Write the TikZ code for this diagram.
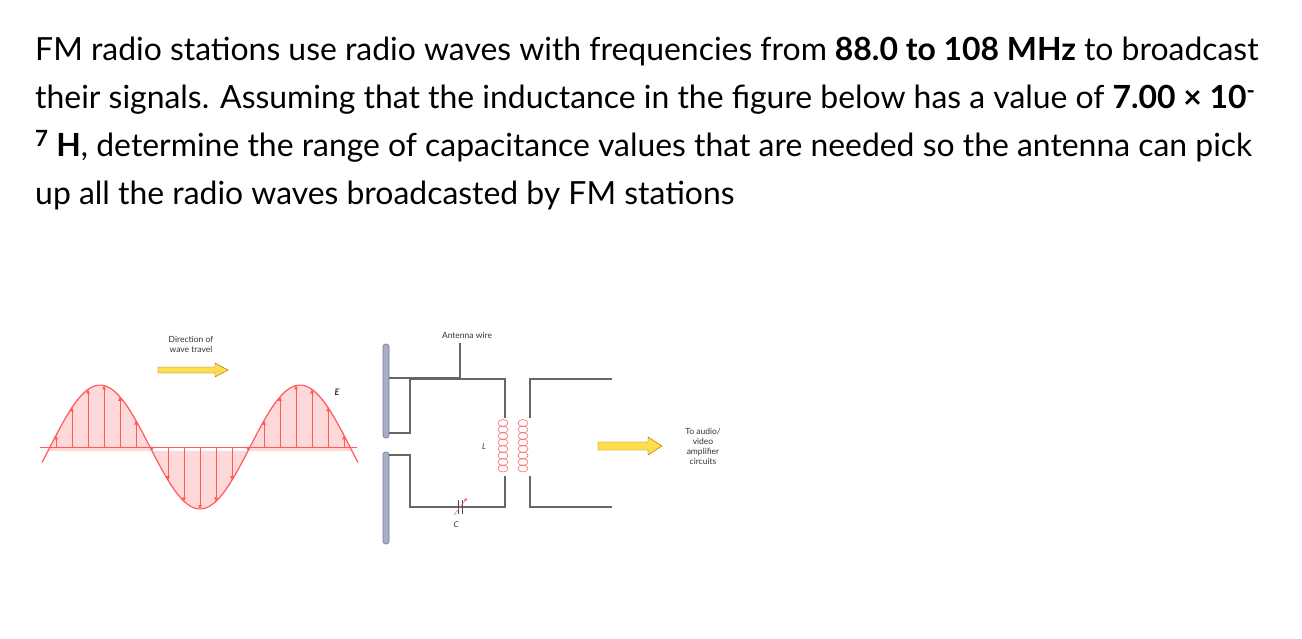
\documentclass[tikz,border=0pt]{standalone}
\usepackage{fontspec}
\setmainfont{Lato}
\usetikzlibrary{arrows.meta}
\begin{document}
\begin{tikzpicture}[x=1pt,y=-1pt,
  txt/.style={anchor=base west,inner sep=0,font=\fontsize{31.9}{36}\selectfont},
  lbl/.style={inner sep=0,font=\fontsize{8.5}{10}\selectfont,align=center,text=black!80},
  wire/.style={draw=black!60,line width=1.1},
  fat/.style={draw=orange!70!black,fill=yellow!70!orange!70,line width=0.4},
  rod/.style={draw=cyan!40!blue!50!gray,fill=cyan!40!blue!30!gray!60,line width=0.6,rounded corners=2.5},
  field/.style={draw=red!65,line width=0.6,-{Triangle[length=4,width=3.5]}}]
\useasboundingbox (0,0) rectangle (1302,638);
\node[txt] (l1) at (35,60) {FM radio stations use radio waves with frequencies from \textbf{88.0 to 108 MHz} to broadcast};
\node[txt] (l2) at (35,108) {their signals. Assuming that the inductance in the figure below has a value of \textbf{7.00 × 10\textsuperscript{-}}};
\node[txt] (l3) at (35,156) {\textbf{\textsuperscript{7} H}, determine the range of capacitance values that are needed so the antenna can pick};
\node[txt] (l4) at (35,204) {up all the radio waves broadcasted by FM stations};
% wave
\fill[red!15] plot[domain=48:352,samples=80] (\x,{447-62*sin(1.8*(\x-50))}) -- cycle;
\draw[red!65,line width=0.6] (40,447) -- (357,447);
\foreach \x in {56,72,...,344}{
  \pgfmathsetmacro\yy{447-62*sin(1.8*(\x-50))}
  \draw[field] (\x,447) -- (\x,\yy);}
\draw[red!65,line width=1.2] plot[domain=42:358,samples=80] (\x,{447-62*sin(1.8*(\x-50))});
\node[lbl] (dir) at (191,344) {Direction of\\wave travel};
\draw[fat] (158,367) -- (215,367) -- (215,363) -- (228,370) -- (215,377) -- (215,373) -- (158,373) -- cycle;
\node[lbl,font=\fontsize{9}{9}\selectfont\itshape\bfseries] (E) at (337,392) {E};
% antenna
\draw[rod] (383,344) rectangle (389,438);
\draw[rod] (383,452) rectangle (389,544);
\coordinate (a1) at (389,378);
\draw[wire] (a1) -- (460,378) -- (460,343);
\node[lbl] (aw) at (467,335) {Antenna wire};
\draw[wire] (389,433) -- (410,433) -- (410,379) -- (505,379) -- (505,418);
\draw[wire] (389,455) -- (410,455) -- (410,507) -- (505,507) -- (505,476);
\draw[wire] (530,418) -- (530,379) -- (612,379);
\draw[wire] (530,476) -- (530,507) -- (612,507);
% coils
\foreach \cx in {503,523}{
  \foreach \k in {0,...,7}{\draw[red!60,line width=0.6] (\cx,423+6.5*\k) ellipse (5 and 3.5);}
}
\node[lbl,font=\fontsize{8}{9}\selectfont\itshape] (L) at (484,447) {L};
% capacitor
\draw[black!70,line width=0.8] (458,500) -- (458,514) (462,500) -- (462,514);
\draw[red!60,line width=0.6,-{Triangle[length=3,width=3]}] (454,515) -- (467,498);
\node[lbl,font=\fontsize{8}{9}\selectfont\itshape] (C) at (456,525) {C};
\draw[fat] (598,442) -- (648,442) -- (648,437) -- (662,446) -- (648,455) -- (648,450) -- (598,450) -- cycle;
\node[lbl] (out) at (703,446) {To audio/\\video\\amplifier\\circuits};
\end{tikzpicture}
\end{document}
